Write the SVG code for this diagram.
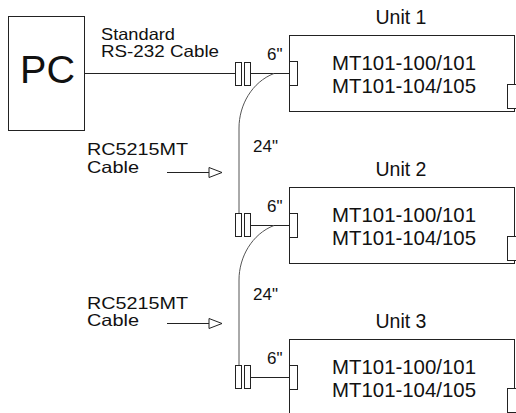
<svg xmlns="http://www.w3.org/2000/svg" width="516" height="413" viewBox="0 0 516 413">
<style>
.box{fill:#fff;stroke:#222;stroke-width:1}
.conn{fill:#fff;stroke:#222;stroke-width:1}
.ln{fill:none;stroke:#222;stroke-width:1}
.cable{fill:none;stroke:#555;stroke-width:1}
text{font-family:"Liberation Sans",Arial,sans-serif;fill:#111}
.lbl{font-size:16.5px}
.len{font-size:17px}
.mt{font-size:21px;text-anchor:middle}
.unit{font-size:19.5px;text-anchor:middle}
</style>
<defs>
<marker id="open" markerWidth="16" markerHeight="12" refX="14" refY="6" orient="auto" markerUnits="userSpaceOnUse">
<path d="M1,1 L14,6 L1,11 Z" fill="#fff" stroke="#222" stroke-width="1"/>
</marker>
</defs>
<rect width="516" height="413" fill="#fff"/>
<g id="connectors">
<line class="ln" x1="84" y1="73.5" x2="235" y2="73.5"/>
<line class="ln" x1="251" y1="73.5" x2="289" y2="73.5"/>
<path class="cable" d="M274,73.5 C252,82 239,105 239,128 L239,213"/>
<line class="ln" x1="251" y1="225.5" x2="289" y2="225.5"/>
<path class="cable" d="M274,225.5 C252,234 239,257 239,280 L239,365"/>
<line class="ln" x1="251" y1="377.5" x2="289" y2="377.5"/>
<line class="ln" x1="167" y1="172.5" x2="222" y2="172.5" marker-end="url(#open)"/>
<line class="ln" x1="167" y1="323.5" x2="222" y2="323.5" marker-end="url(#open)"/>
</g>
<g id="pc">
<rect class="box" x="8.5" y="16.5" width="76" height="114"/>
<text x="20" y="83" font-size="39" textLength="55" lengthAdjust="spacingAndGlyphs">PC</text>
</g>
<g id="cable-label-rs232">
<text class="lbl" x="101" y="40" textLength="74" lengthAdjust="spacingAndGlyphs">Standard</text>
<text class="lbl" x="101" y="57" textLength="118" lengthAdjust="spacingAndGlyphs">RS-232 Cable</text>
</g>
<g id="plug1">
<rect class="conn" x="235.5" y="62.5" width="6" height="23"/>
<rect class="conn" x="244.5" y="62.5" width="6" height="23"/>
</g>
<g id="plug2">
<rect class="conn" x="235.5" y="213.5" width="6" height="23"/>
<rect class="conn" x="244.5" y="213.5" width="6" height="23"/>
</g>
<g id="plug3">
<rect class="conn" x="235.5" y="365.5" width="6" height="23"/>
<rect class="conn" x="244.5" y="365.5" width="6" height="23"/>
</g>
<g id="unit1">
<text class="unit" x="401" y="24">Unit 1</text>
<rect class="box" x="289.5" y="35.5" width="225" height="76"/>
<rect class="conn" x="289.5" y="61.5" width="8" height="24"/>
<rect class="conn" x="507.5" y="84.5" width="9" height="24"/>
<text class="mt" x="404" y="70" textLength="144" lengthAdjust="spacingAndGlyphs">MT101-100/101</text>
<text class="mt" x="404" y="93" textLength="144" lengthAdjust="spacingAndGlyphs">MT101-104/105</text>
<text class="len" x="267" y="60">6"</text>
</g>
<g id="unit2">
<text class="unit" x="401" y="176">Unit 2</text>
<rect class="box" x="289.5" y="187.5" width="225" height="76"/>
<rect class="conn" x="289.5" y="213.5" width="8" height="24"/>
<rect class="conn" x="507.5" y="236.5" width="9" height="24"/>
<text class="mt" x="404" y="222" textLength="144" lengthAdjust="spacingAndGlyphs">MT101-100/101</text>
<text class="mt" x="404" y="245" textLength="144" lengthAdjust="spacingAndGlyphs">MT101-104/105</text>
<text class="len" x="267" y="212">6"</text>
</g>
<g id="unit3">
<text class="unit" x="401" y="328">Unit 3</text>
<rect class="box" x="289.5" y="339.5" width="225" height="76"/>
<rect class="conn" x="289.5" y="365.5" width="8" height="24"/>
<rect class="conn" x="507.5" y="388.5" width="9" height="24"/>
<text class="mt" x="404" y="374" textLength="144" lengthAdjust="spacingAndGlyphs">MT101-100/101</text>
<text class="mt" x="404" y="397" textLength="144" lengthAdjust="spacingAndGlyphs">MT101-104/105</text>
<text class="len" x="267" y="364">6"</text>
</g>
<g id="rc-label-1">
<text class="lbl" x="87" y="155" textLength="101" lengthAdjust="spacingAndGlyphs">RC5215MT</text>
<text class="lbl" x="87" y="173" textLength="52" lengthAdjust="spacingAndGlyphs">Cable</text>
<text class="len" x="253" y="152">24"</text>
</g>
<g id="rc-label-2">
<text class="lbl" x="87" y="309" textLength="101" lengthAdjust="spacingAndGlyphs">RC5215MT</text>
<text class="lbl" x="87" y="326" textLength="52" lengthAdjust="spacingAndGlyphs">Cable</text>
<text class="len" x="253" y="300">24"</text>
</g>
</svg>
